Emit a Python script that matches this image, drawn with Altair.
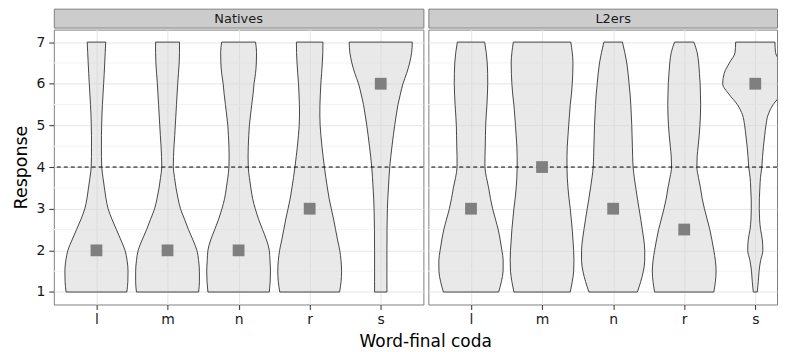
import altair as alt
import pandas as pd

# ---------------- data ----------------
codas = ["l", "m", "n", "r", "s"]
groups = ["Natives", "L2ers"]

# response levels at which violin widths were read
levels = [1.0, 1.25, 1.5, 1.75, 2.0, 2.25, 2.5, 2.75, 3.0, 3.25, 3.5, 3.75,
          4.0, 4.25, 4.5, 4.75, 5.0, 5.25, 5.5, 5.75, 6.0, 6.25, 6.5, 6.75, 7.0]

# relative violin half-widths (density, max ~32) per coda
natives_l = [30.5, 31.5, 31.7, 30.8, 28.7, 24.5, 20.0, 15.5, 11.7, 9.5, 8.0, 6.5,
             5.3, 5.0, 5.0, 5.0, 5.2, 5.5, 6.0, 6.6, 7.2, 7.8, 8.3, 8.8, 9.3]
natives_m = [31.2, 32.0, 32.0, 31.2, 29.5, 25.5, 21.0, 17.0, 13.0, 10.5, 8.5, 7.0,
             5.8, 6.0, 6.5, 7.2, 7.8, 8.4, 9.0, 9.6, 10.2, 11.0, 11.7, 12.0, 12.0]
natives_n = [30.8, 31.7, 32.0, 31.5, 30.8, 28.0, 24.0, 20.0, 16.7, 14.0, 12.3, 10.8,
             9.7, 9.5, 9.7, 10.2, 10.8, 12.0, 13.2, 14.5, 15.5, 17.0, 17.8, 18.0, 17.0]
natives_r = [30.0, 31.5, 32.0, 31.5, 30.2, 28.0, 26.0, 24.0, 21.7, 19.5, 17.8, 16.2,
             14.8, 13.5, 12.3, 11.3, 10.5, 10.2, 10.3, 10.7, 11.2, 12.0, 12.7, 13.2, 13.3]
natives_s = [6.2, 6.2, 6.2, 6.2, 6.2, 6.3, 6.3, 6.5, 6.7, 7.1, 7.7, 8.3,
             9.0, 10.1, 11.3, 12.6, 14.0, 15.6, 17.3, 19.7, 22.3, 26.0, 29.0, 31.0, 31.7]

l2_l = [27.7, 30.5, 32.2, 32.3, 31.0, 29.3, 27.3, 24.5, 21.7, 19.5, 17.7, 15.5,
        14.0, 14.0, 14.3, 14.5, 14.7, 15.3, 16.0, 16.5, 16.8, 16.7, 16.3, 15.3, 13.7]
l2_m = [28.3, 30.3, 31.7, 32.0, 31.7, 31.0, 30.3, 29.3, 28.3, 27.0, 26.0, 25.3,
        25.0, 25.0, 25.3, 26.0, 26.7, 27.5, 28.3, 29.5, 30.3, 30.8, 31.0, 30.3, 28.8]
l2_n = [24.3, 27.7, 30.3, 31.7, 31.7, 30.8, 29.3, 27.7, 26.0, 24.3, 22.7, 21.2,
        20.0, 19.6, 19.3, 19.0, 18.7, 18.2, 17.7, 17.0, 16.0, 15.0, 13.7, 11.7, 9.3]
l2_r = [29.7, 31.3, 32.0, 31.3, 29.7, 27.8, 25.7, 23.0, 20.3, 18.0, 16.3, 14.3,
        12.7, 13.0, 14.0, 15.0, 15.8, 16.3, 16.5, 16.3, 16.0, 15.3, 14.5, 13.0, 9.7]
l2_s = [2.0, 3.0, 3.8, 5.3, 7.6, 7.1, 5.3, 4.3, 4.0, 4.1, 4.6, 5.2,
        6.6, 7.3, 8.2, 9.4, 10.7, 12.8, 18.0, 26.5, 32.7, 31.2, 26.0, 20.3, 19.7]

profiles = {
    "Natives": [natives_l, natives_m, natives_n, natives_r, natives_s],
    "L2ers": [l2_l, l2_m, l2_n, l2_r, l2_s],
}

# medians (grey squares)
medians = {
    "Natives": [2, 2, 2, 3, 6],
    "L2ers": [3, 4, 3, 2.5, 6],
}

reference_line = [4]
y_major = [1, 2, 3, 4, 5, 6, 7]
y_minor = [1.5, 2.5, 3.5, 4.5, 5.5, 6.5]

# ---------------- styling ----------------
FONT = "DejaVu Sans"
DENSITY_MAX = 32.1      # density value that maps to the full violin width
HALF_WIDTH = 0.45       # half of ggplot's default violin width (0.9)
LEFT_W = 371
RIGHT_W = 350
PANEL_H = 276
STRIP_H = 19
X_MIN, X_MAX = 0.4, 5.6
Y_DOMAIN = [0.7, 7.3]

label_expr = "[" + ",".join("'%s'" % c for c in codas) + "][datum.value - 1]"


def violin_frame(group):
    rows = []
    for i, c in enumerate(codas):
        for y, d in zip(levels, profiles[group][i]):
            hw = d / DENSITY_MAX * HALF_WIDTH
            rows.append({"coda": c, "pos": i + 1, "y": y,
                         "lo": i + 1 - hw, "hi": i + 1 + hw})
    return pd.DataFrame(rows)


def panel(group, width, show_y):
    x_max = X_MIN + width * (X_MAX - X_MIN) / LEFT_W
    xscale = alt.Scale(domain=[X_MIN, x_max], nice=False, zero=False)
    yscale = alt.Scale(domain=Y_DOMAIN, nice=False, zero=False)
    xaxis = alt.Axis(values=[1, 2, 3, 4, 5], labelExpr=label_expr, title=None,
                     grid=True, gridColor="#e5e5e5", domain=False,
                     tickSize=5, tickColor="#333333", labelPadding=3,
                     labelFontSize=14, labelColor="#1a1a1a", labelFont=FONT)
    if show_y:
        yaxis = alt.Axis(values=y_major, title="Response", grid=True,
                         gridColor="#e5e5e5", domain=False, tickSize=5,
                         tickColor="#333333", labelPadding=4, labelFontSize=14,
                         labelColor="#1a1a1a", labelFont=FONT,
                         titleFont=FONT, titleFontSize=17.5,
                         titleFontWeight="normal", titleColor="#000000",
                         titlePadding=6)
    else:
        yaxis = alt.Axis(values=y_major, title=None, grid=True,
                         gridColor="#e5e5e5", domain=False, ticks=False,
                         labels=False)

    X = lambda f: alt.X(f, scale=xscale, axis=xaxis)
    Y = lambda f: alt.Y(f, scale=yscale, axis=yaxis)

    minor = alt.Chart(pd.DataFrame({"y": y_minor})).mark_rule(
        color="#f3f3f3", strokeWidth=1).encode(y=Y("y:Q"))

    vio = alt.Chart(violin_frame(group)).mark_area(
        orient="horizontal", interpolate="monotone", fill="#d4d4d4",
        fillOpacity=0.5, stroke="#333333", strokeWidth=0.9, clip=True
    ).encode(y=Y("y:Q"), x=X("lo:Q"), x2="hi:Q", detail="coda:N")

    hline = alt.Chart(pd.DataFrame({"y": reference_line})).mark_rule(
        color="black", strokeDash=[4, 3], strokeWidth=1).encode(y=Y("y:Q"))

    med = alt.Chart(pd.DataFrame({"pos": [1, 2, 3, 4, 5],
                                  "y": medians[group]})).mark_square(
        size=140, color="#7f7f7f", opacity=1).encode(x=X("pos:Q"), y=Y("y:Q"))

    return alt.layer(minor, vio, hline, med).properties(
        width=width, height=PANEL_H,
        view=alt.ViewBackground(fill="white", stroke="#7f7f7f", cornerRadius=0))


def strip(group, width, dx):
    return alt.Chart(pd.DataFrame({"panel": [group]})).mark_text(
        font=FONT, fontSize=13, color="#1a1a1a", dx=dx, dy=1
    ).encode(text="panel:N").properties(
        width=width, height=STRIP_H,
        view=alt.ViewBackground(fill="#cccccc", stroke="#7f7f7f", cornerRadius=0))


left = alt.vconcat(strip("Natives", LEFT_W, 0), panel("Natives", LEFT_W, True),
                   spacing=0)
right = alt.vconcat(strip("L2ers", RIGHT_W, (LEFT_W - RIGHT_W) / 2),
                    panel("L2ers", RIGHT_W, False), spacing=0)

chart = alt.hconcat(left, right, spacing=3).properties(
    padding={"left": 3, "top": -1, "right": 0, "bottom": 0},
    title=alt.TitleParams("Word-final coda", orient="bottom", anchor="middle",
                          font=FONT, fontSize=17, fontWeight="normal",
                          color="#000000", offset=7, dx=31),
).configure_view(stroke="#7f7f7f")

chart.save("out.html", embed_options={"renderer": "svg", "actions": False})
